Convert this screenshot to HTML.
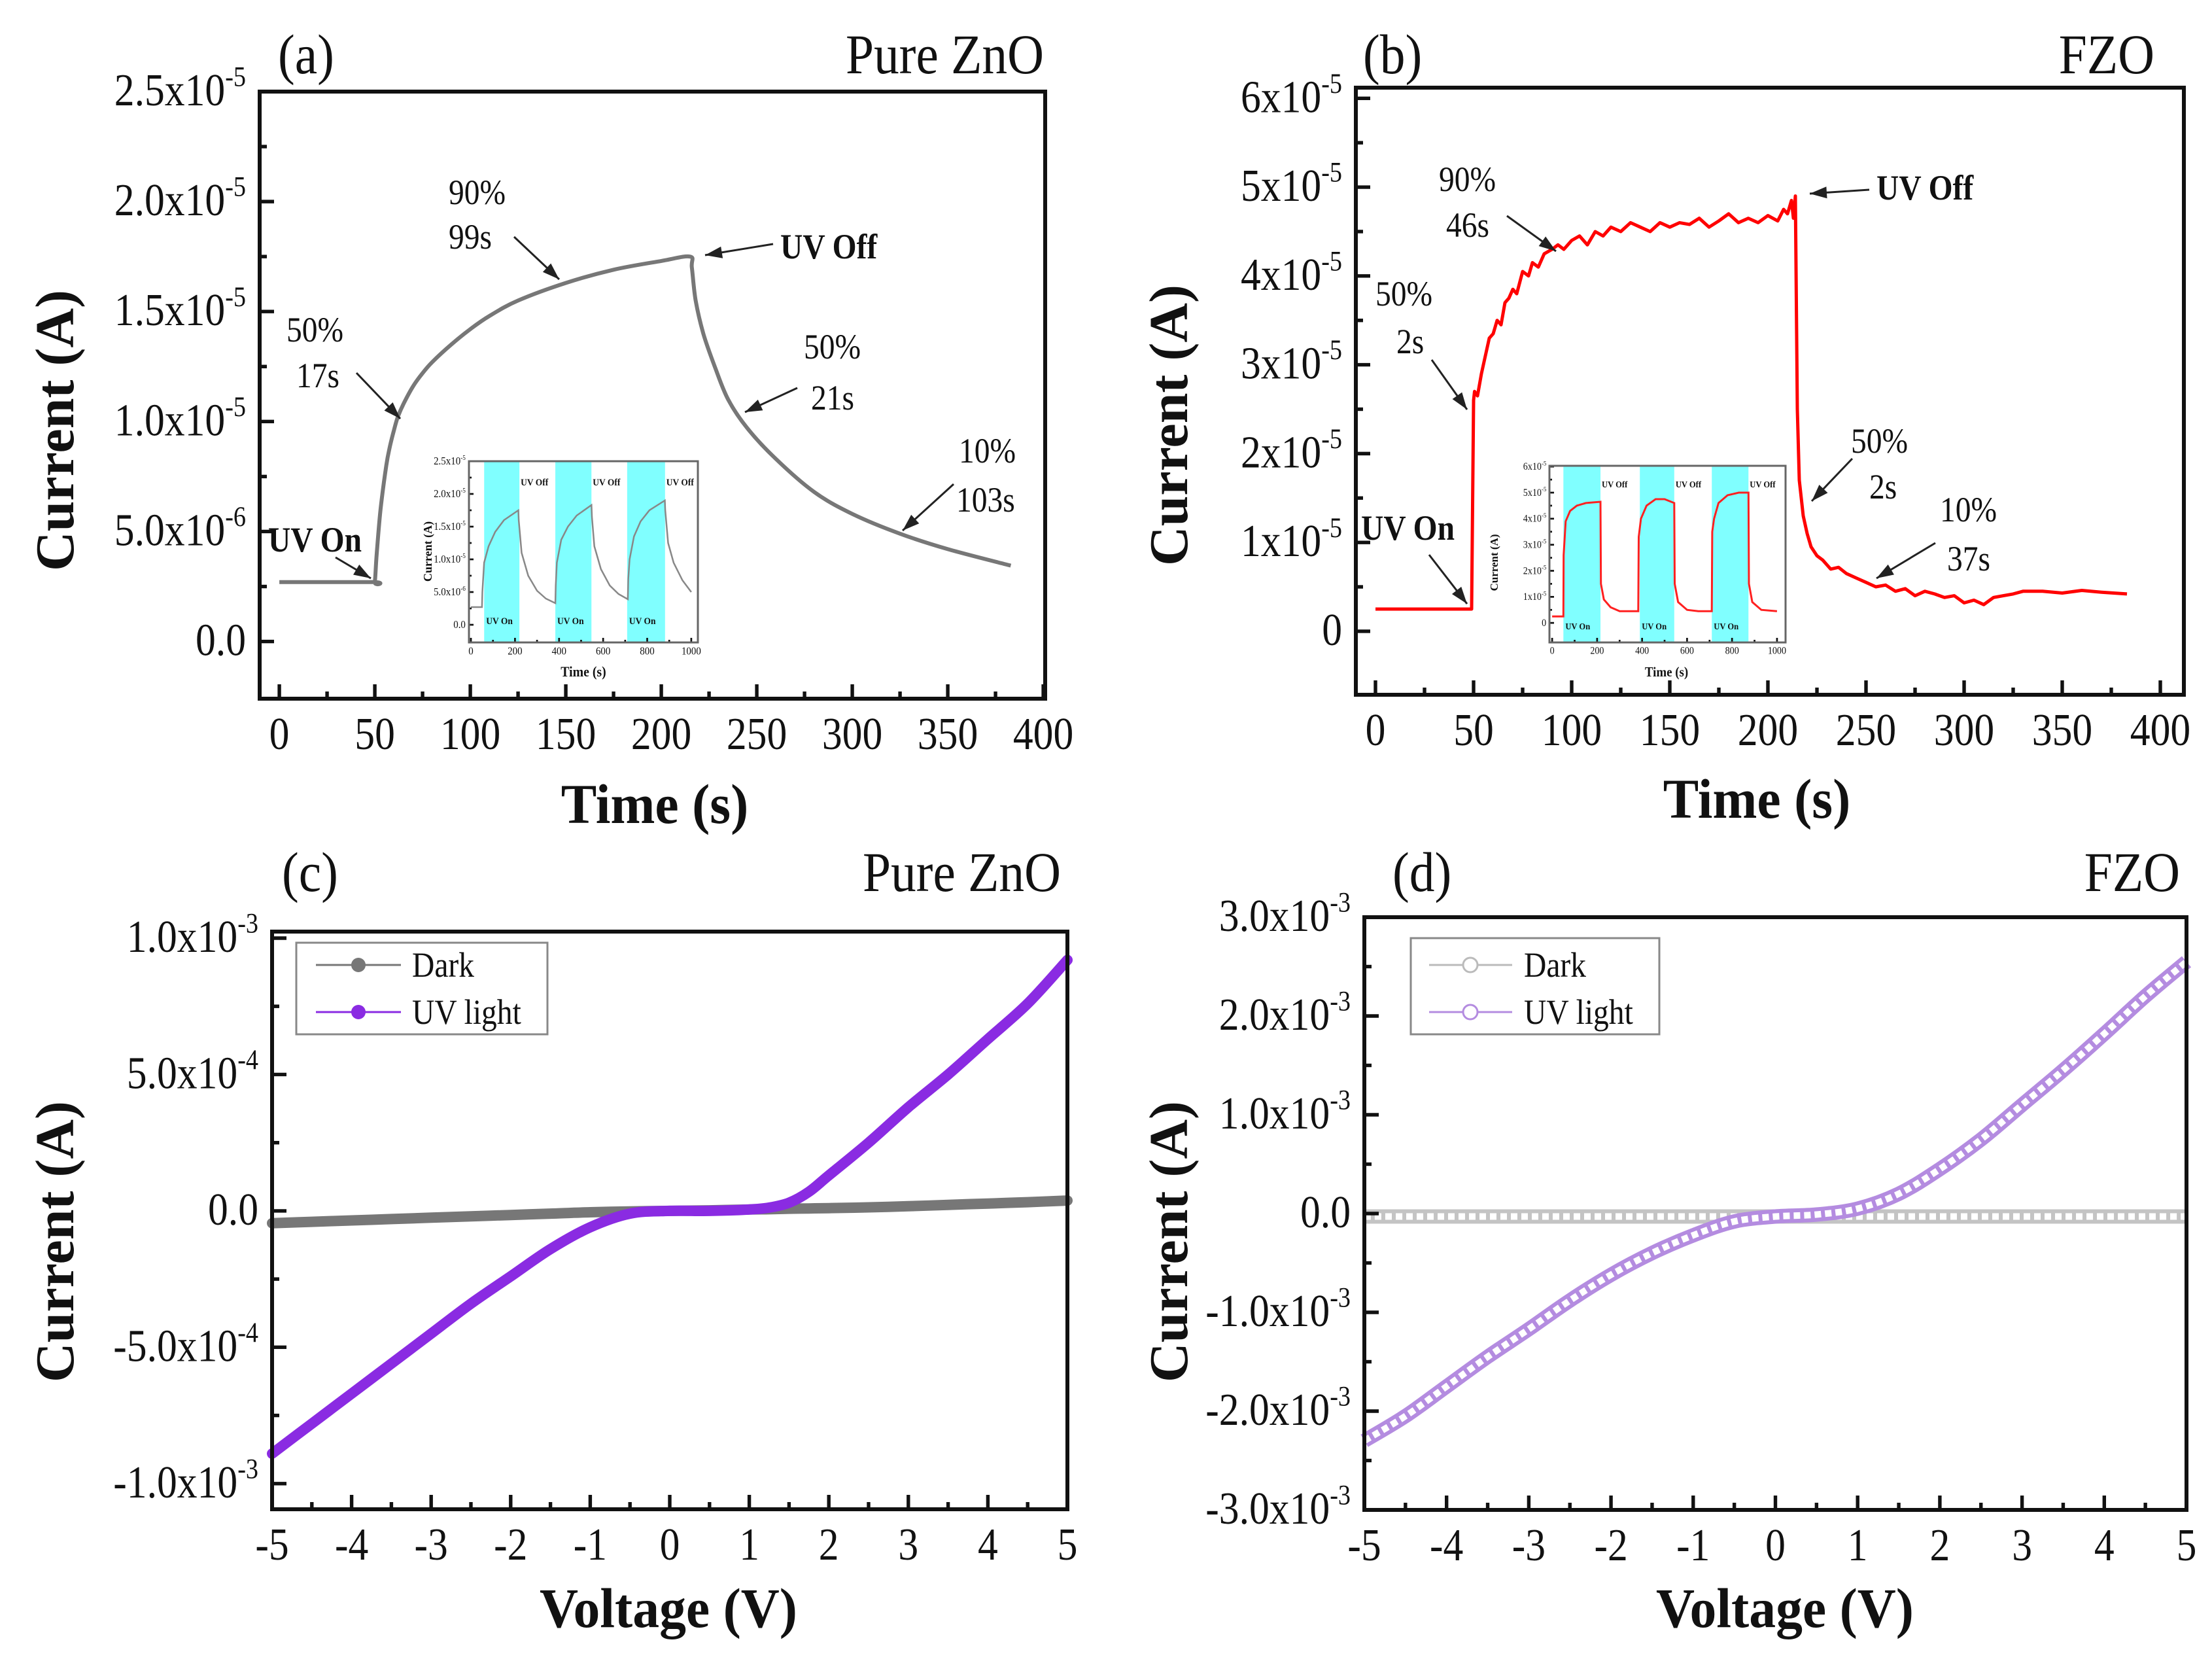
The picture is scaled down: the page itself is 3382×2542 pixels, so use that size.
<!DOCTYPE html>
<html><head><meta charset="utf-8"><style>
html,body{margin:0;padding:0;background:#fff;}
svg{display:block;font-family:"Liberation Serif","DejaVu Serif",serif;}
</style></head><body>
<svg id="fig" width="3382" height="2542" viewBox="0 0 3382 2542" xmlns="http://www.w3.org/2000/svg"></svg>
<script>
// ---------- data ----------
const aT = [0,49,50,51,53,56,58,60,62,65,70,75,80,90,100,110,125,150,175,200,215,216,218,222,228,235,245,260,280,300,325,350,383];
const aI = [0.27,0.27,0.27,0.4,0.6,0.8,0.89,0.96,1.02,1.08,1.16,1.22,1.27,1.35,1.42,1.48,1.55,1.63,1.69,1.73,1.75,1.70,1.55,1.40,1.25,1.10,0.97,0.83,0.68,0.58,0.49,0.42,0.345];
const aXTicks = [0,50,100,150,200,250,300,350,400];
const aYTicks = [0,0.5,1.0,1.5,2.0,2.5];
const aYLabels = ['0.0','5.0x10|-6','1.0x10|-5','1.5x10|-5','2.0x10|-5','2.5x10|-5'];

const bT = [0,49,50,50.5,52,54,56,58,60,62,64,66,68,70,72,75,78,80,83,86,90,93,96,100,104,108,112,116,120,125,130,135,140,145,150,155,160,165,170,175,180,185,190,195,200,205,208,210,212,213,214,215,216,218,220,222,225,228,232,236,240,245,250,255,260,265,270,275,280,285,290,295,300,305,310,315,320,325,330,340,350,360,370,383];
const bI = [0.25,0.25,2.6,2.7,2.65,2.9,3.1,3.3,3.35,3.5,3.45,3.7,3.75,3.85,3.8,4.05,4.0,4.15,4.1,4.25,4.3,4.35,4.3,4.4,4.45,4.35,4.5,4.45,4.55,4.5,4.6,4.55,4.5,4.6,4.55,4.6,4.58,4.65,4.55,4.62,4.7,4.6,4.65,4.6,4.68,4.62,4.75,4.7,4.85,4.65,4.9,2.5,1.7,1.3,1.1,0.95,0.85,0.8,0.7,0.72,0.65,0.6,0.55,0.5,0.52,0.45,0.48,0.4,0.45,0.42,0.38,0.4,0.32,0.35,0.3,0.38,0.4,0.42,0.45,0.45,0.43,0.46,0.44,0.42];
const bXTicks = [0,50,100,150,200,250,300,350,400];
const bYTicks = [0,1,2,3,4,5,6];
const bYLabels = ['0','1x10|-5','2x10|-5','3x10|-5','4x10|-5','5x10|-5','6x10|-5'];

const iaT = [0,50,52,60,80,110,150,215,217,230,260,300,340,383,385,390,410,440,480,547,549,560,590,630,670,712,714,720,740,770,810,880,882,895,920,960,1000];
const iaI = [0.27,0.27,0.5,0.95,1.2,1.42,1.6,1.75,1.6,1.1,0.75,0.52,0.4,0.33,0.6,0.95,1.3,1.5,1.67,1.83,1.65,1.2,0.85,0.6,0.47,0.39,0.7,1.0,1.35,1.58,1.75,1.9,1.75,1.25,0.95,0.68,0.5];
const iaBands = [[60,220],[383,547],[709,881]];
const ibT = [0,50,51,60,80,110,150,215,217,230,260,300,383,385,395,420,460,500,543,545,560,600,650,710,712,720,740,780,830,873,875,890,930,1000];
const ibI = [0.25,0.25,2.6,3.9,4.3,4.5,4.6,4.65,1.5,0.9,0.6,0.45,0.45,3.3,4.0,4.5,4.75,4.75,4.6,1.5,0.8,0.5,0.45,0.45,3.5,4.0,4.6,4.9,5.0,5.0,1.5,0.8,0.5,0.45];
const ibBands = [[50,215],[390,543],[710,873]];
const insetXTicks = [0,200,400,600,800,1000];
const iaYTicks = [0,0.5,1.0,1.5,2.0,2.5];
const iaYLabels = ['0.0','5.0x10|-6','1.0x10|-5','1.5x10|-5','2.0x10|-5','2.5x10|-5'];
const ibYTicks = [0,1,2,3,4,5,6];
const ibYLabels = ['0','1x10|-5','2x10|-5','3x10|-5','4x10|-5','5x10|-5','6x10|-5'];

const cV = [-5,-4.5,-4,-3.5,-3,-2.5,-2,-1.5,-1,-0.5,0,0.5,1,1.25,1.5,1.75,2,2.5,3,3.5,4,4.5,5];
const cUV = [-8.9,-7.8,-6.7,-5.6,-4.5,-3.4,-2.4,-1.4,-0.6,-0.1,0,0,0.05,0.12,0.3,0.7,1.3,2.5,3.8,5.0,6.3,7.6,9.2];
const cDark = [-0.45,-0.4,-0.35,-0.3,-0.25,-0.2,-0.15,-0.1,-0.05,-0.02,0,0.02,0.05,0.06,0.08,0.09,0.1,0.13,0.17,0.22,0.27,0.32,0.38];
const cYTicks = [-10,-5,0,5,10];
const cYLabels = ['-1.0x10|-3','-5.0x10|-4','0.0','5.0x10|-4','1.0x10|-3'];
const vXTicks = [-5,-4,-3,-2,-1,0,1,2,3,4,5];

const dV = [-5,-4.5,-4,-3.5,-3,-2.5,-2,-1.5,-1,-0.5,0,0.5,1,1.5,2,2.5,3,3.5,4,4.5,5];
const dUV = [-2.3,-2.05,-1.75,-1.45,-1.17,-0.88,-0.62,-0.4,-0.22,-0.08,-0.03,-0.01,0.05,0.2,0.45,0.75,1.1,1.45,1.82,2.2,2.55];
const dDark = [-0.03,-0.03,-0.03,-0.03,-0.03,-0.03,-0.03,-0.03,-0.03,-0.03,-0.03,-0.03,-0.03,-0.03,-0.03,-0.03,-0.03,-0.03,-0.03,-0.03,-0.03];
const dYTicks = [-3,-2,-1,0,1,2,3];
const dYLabels = ['-3.0x10|-3','-2.0x10|-3','-1.0x10|-3','0.0','1.0x10|-3','2.0x10|-3','3.0x10|-3'];

// ---------- helpers ----------
const NS = 'http://www.w3.org/2000/svg';
const fig = document.getElementById('fig');
function mk(parent, tag, attrs, name) {
  const el = document.createElementNS(NS, tag);
  for (const k in attrs) el.setAttribute(k, attrs[k]);
  
  
  parent.appendChild(el);
  return el;
}
function txt(parent, x, y, s, size, anchor, weight, name, sx, fill) {
  const g = mk(parent, 'g', {transform: 'translate(' + x + ',' + y + ') scale(' + (sx || 1) + ',1)'}, name + '-group');
  const t = mk(g, 'text', {x: 0, y: 0, 'font-size': size, 'text-anchor': anchor || 'start', 'font-weight': weight || 'normal', fill: fill || '#111'}, name);
  const parts = s.split('|');
  t.appendChild(document.createTextNode(parts[0]));
  if (parts.length > 1) {
    const sp = mk(t, 'tspan', {'font-size': size * 0.62, dy: -size * 0.42}, name + '-exponent');
    sp.textContent = parts[1];
  }
  return t;
}
function axis(p) {
  p.sx = v => p.L + (v - p.x0) / (p.x1 - p.x0) * (p.R - p.L);
  p.sy = v => p.B - (v - p.y0) / (p.y1 - p.y0) * (p.B - p.T);
  return p;
}
function smoothPath(xs, ys, p) {
  const P = xs.map((x, i) => [p.sx(x), p.sy(ys[i])]);
  let d = 'M' + P[0][0].toFixed(1) + ',' + P[0][1].toFixed(1);
  for (let i = 0; i < P.length - 1; i++) {
    const p0 = P[Math.max(i - 1, 0)], p1 = P[i], p2 = P[i + 1], p3 = P[Math.min(i + 2, P.length - 1)];
    const c1 = [p1[0] + (p2[0] - p0[0]) / 6, p1[1] + (p2[1] - p0[1]) / 6];
    const c2 = [p2[0] - (p3[0] - p1[0]) / 6, p2[1] - (p3[1] - p1[1]) / 6];
    d += 'C' + c1[0].toFixed(1) + ',' + c1[1].toFixed(1) + ' ' + c2[0].toFixed(1) + ',' + c2[1].toFixed(1) + ' ' + p2[0].toFixed(1) + ',' + p2[1].toFixed(1);
  }
  return d;
}
function linePath(xs, ys, p) {
  return xs.map((x, i) => (i ? 'L' : 'M') + p.sx(x).toFixed(1) + ',' + p.sy(ys[i]).toFixed(1)).join('');
}
function frame(g, p, o) {
  const sw = o.sw || 6, tl = o.tl || 22, ml = o.ml || 11, fs = o.fs || 70;
  o.xt.forEach((v, i) => {
    const x = p.sx(v);
    mk(g, 'line', {x1: x, y1: p.B, x2: x, y2: p.B - tl, stroke: '#111', 'stroke-width': sw * 0.9}, 'x-tick');
    txt(g, x, p.B + fs * 1.1, String(v), fs, 'middle', 'normal', 'x-tick-label', o.sxs || 0.88);
    if (i < o.xt.length - 1) {
      const xm = p.sx((v + o.xt[i + 1]) / 2);
      mk(g, 'line', {x1: xm, y1: p.B, x2: xm, y2: p.B - ml, stroke: '#111', 'stroke-width': sw * 0.9}, 'x-minor-tick');
    }
  });
  o.yt.forEach((v, i) => {
    const y = p.sy(v);
    mk(g, 'line', {x1: p.L, y1: y, x2: p.L + tl, y2: y, stroke: '#111', 'stroke-width': sw * 0.9}, 'y-tick');
    txt(g, p.L - fs * 0.3, y + fs * 0.3, o.yl[i], fs, 'end', 'normal', 'y-tick-label', o.sxs || 0.88);
    if (i < o.yt.length - 1) {
      const ym = p.sy((v + o.yt[i + 1]) / 2);
      mk(g, 'line', {x1: p.L, y1: ym, x2: p.L + ml, y2: ym, stroke: '#111', 'stroke-width': sw * 0.9}, 'y-minor-tick');
    }
  });
  mk(g, 'rect', {x: p.L, y: p.T, width: p.R - p.L, height: p.B - p.T, fill: 'none', stroke: o.fc || '#111', 'stroke-width': sw}, 'plot-frame');
}
function arrow(g, x1, y1, x2, y2, name) {
  mk(g, 'line', {x1: x1, y1: y1, x2: x2, y2: y2, stroke: '#222', 'stroke-width': 3}, name);
  const a = Math.atan2(y2 - y1, x2 - x1), L = 26, W = 9;
  const bx = x2 - L * Math.cos(a), by = y2 - L * Math.sin(a);
  const pts = [x2, y2, bx + W * Math.sin(a), by - W * Math.cos(a), bx - W * Math.sin(a), by + W * Math.cos(a)];
  mk(g, 'polygon', {points: pts.join(','), fill: '#222'}, name + '-head');
}
function ylabel(g, x, y, s, size, name) {
  const gg = mk(g, 'g', {transform: 'translate(' + x + ',' + y + ') rotate(-90)'}, name + '-group');
  const t = mk(gg, 'text', {x: 0, y: 0, 'font-size': size, 'text-anchor': 'middle', 'font-weight': 'bold', fill: '#111'}, name);
  t.textContent = s;
}

// ---------- panel a ----------
const gA = mk(fig, 'g', {}, 'panel-a');
const pA = axis({L: 397, R: 1598, T: 140, B: 1068, x0: -10.3, x1: 401, y0: -0.26, y1: 2.5});
frame(gA, pA, {xt: aXTicks, yt: aYTicks, yl: aYLabels});
mk(gA, 'path', {d: smoothPath(aT, aI, pA), fill: 'none', stroke: '#777', 'stroke-width': 6, 'stroke-linejoin': 'round'}, 'pure-zno-current-curve');
txt(gA, 425, 112, '(a)', 86, 'start', 'normal', 'panel-a-label', 0.9);
txt(gA, 1596, 112, 'Pure ZnO', 86, 'end', 'normal', 'panel-a-title', 0.9);
ylabel(gA, 112, 658, 'Current (A)', 84, 'y-axis-title');
txt(gA, 1001, 1258, 'Time (s)', 86, 'middle', 'bold', 'x-axis-title', 0.95);
txt(gA, 410, 843, 'UV On', 54, 'start', 'bold', 'uv-on-label', 0.88);
arrow(gA, 513, 852, 567, 884, 'uv-on-arrow');
txt(gA, 438, 522, '50%', 54, 'start', 'normal', 'rise-50-label', 0.88);
txt(gA, 453, 592, '17s', 54, 'start', 'normal', 'rise-50-time', 0.88);
arrow(gA, 545, 570, 612, 640, 'rise-50-arrow');
txt(gA, 686, 312, '90%', 54, 'start', 'normal', 'rise-90-label', 0.88);
txt(gA, 686, 380, '99s', 54, 'start', 'normal', 'rise-90-time', 0.88);
arrow(gA, 786, 362, 855, 427, 'rise-90-arrow');
txt(gA, 1193, 395, 'UV Off', 54, 'start', 'bold', 'uv-off-label', 0.88);
arrow(gA, 1182, 373, 1078, 390, 'uv-off-arrow');
txt(gA, 1229, 548, '50%', 54, 'start', 'normal', 'decay-50-label', 0.88);
txt(gA, 1240, 626, '21s', 54, 'start', 'normal', 'decay-50-time', 0.88);
arrow(gA, 1219, 593, 1139, 630, 'decay-50-arrow');
txt(gA, 1466, 707, '10%', 54, 'start', 'normal', 'decay-10-label', 0.88);
txt(gA, 1462, 782, '103s', 54, 'start', 'normal', 'decay-10-time', 0.88);
arrow(gA, 1458, 740, 1380, 811, 'decay-10-arrow');

// inset a
const gIA = mk(gA, 'g', {}, 'inset-a');
const pIA = axis({L: 717, R: 1067, T: 705, B: 982, x0: -9, x1: 1030, y0: -0.27, y1: 2.5});
iaBands.forEach(b => {
  mk(gIA, 'rect', {x: pIA.sx(b[0]), y: pIA.T, width: pIA.sx(b[1]) - pIA.sx(b[0]), height: pIA.B - pIA.T, fill: '#80ffff'}, 'uv-on-band');
  txt(gIA, pIA.sx(b[0]) + 3, pIA.B - 28, 'UV On', 15, 'start', 'bold', 'inset-uv-on-label', 0.9);
  txt(gIA, pIA.sx(b[1]) + 2, pIA.T + 37, 'UV Off', 15, 'start', 'bold', 'inset-uv-off-label', 0.9);
});
mk(gIA, 'path', {d: linePath(iaT, iaI, pIA), fill: 'none', stroke: '#888', 'stroke-width': 2.5}, 'inset-a-curve');
frame(gIA, pIA, {xt: insetXTicks, yt: iaYTicks, yl: iaYLabels, sw: 3, tl: 7, ml: 4, fs: 17, fc: '#666'});
ylabel(gIA, 660, 843, 'Current (A)', 18, 'inset-y-axis-title');
txt(gIA, 892, 1034, 'Time (s)', 22, 'middle', 'bold', 'inset-x-axis-title', 0.9);

// ---------- panel b ----------
const gB = mk(fig, 'g', {}, 'panel-b');
const pB = axis({L: 2073, R: 3339, T: 134, B: 1062, x0: -10, x1: 412, y0: -0.715, y1: 6.12});
frame(gB, pB, {xt: bXTicks, yt: bYTicks, yl: bYLabels});
mk(gB, 'path', {d: linePath(bT, bI, pB), fill: 'none', stroke: '#ff0000', 'stroke-width': 5, 'stroke-linejoin': 'round'}, 'fzo-current-curve');
txt(gB, 2084, 112, '(b)', 86, 'start', 'normal', 'panel-b-label', 0.9);
txt(gB, 3294, 112, 'FZO', 86, 'end', 'normal', 'panel-b-title', 0.9);
ylabel(gB, 1815, 650, 'Current (A)', 84, 'y-axis-title');
txt(gB, 2686, 1250, 'Time (s)', 86, 'middle', 'bold', 'x-axis-title', 0.95);
txt(gB, 2081, 825, 'UV On', 54, 'start', 'bold', 'uv-on-label', 0.88);
arrow(gB, 2185, 848, 2243, 923, 'uv-on-arrow');
txt(gB, 2103, 467, '50%', 54, 'start', 'normal', 'rise-50-label', 0.88);
txt(gB, 2135, 540, '2s', 54, 'start', 'normal', 'rise-50-time', 0.88);
arrow(gB, 2189, 550, 2243, 626, 'rise-50-arrow');
txt(gB, 2200, 292, '90%', 54, 'start', 'normal', 'rise-90-label', 0.88);
txt(gB, 2211, 362, '46s', 54, 'start', 'normal', 'rise-90-time', 0.88);
arrow(gB, 2304, 330, 2379, 384, 'rise-90-arrow');
txt(gB, 2869, 305, 'UV Off', 54, 'start', 'bold', 'uv-off-label', 0.88);
arrow(gB, 2858, 290, 2767, 296, 'uv-off-arrow');
txt(gB, 2830, 692, '50%', 54, 'start', 'normal', 'decay-50-label', 0.88);
txt(gB, 2858, 762, '2s', 54, 'start', 'normal', 'decay-50-time', 0.88);
arrow(gB, 2832, 701, 2770, 766, 'decay-50-arrow');
txt(gB, 2966, 797, '10%', 54, 'start', 'normal', 'decay-10-label', 0.88);
txt(gB, 2977, 872, '37s', 54, 'start', 'normal', 'decay-10-time', 0.88);
arrow(gB, 2959, 830, 2869, 884, 'decay-10-arrow');

// inset b
const gIB = mk(gB, 'g', {}, 'inset-b');
const pIB = axis({L: 2369, R: 2730, T: 712, B: 982, x0: -12, x1: 1038, y0: -0.75, y1: 6.03});
ibBands.forEach(b => {
  mk(gIB, 'rect', {x: pIB.sx(b[0]), y: pIB.T, width: pIB.sx(b[1]) - pIB.sx(b[0]), height: pIB.B - pIB.T, fill: '#80ffff'}, 'uv-on-band');
  txt(gIB, pIB.sx(b[0]) + 3, pIB.B - 20, 'UV On', 14, 'start', 'bold', 'inset-uv-on-label', 0.9);
  txt(gIB, pIB.sx(b[1]) + 2, pIB.T + 33, 'UV Off', 14, 'start', 'bold', 'inset-uv-off-label', 0.9);
});
mk(gIB, 'path', {d: linePath(ibT, ibI, pIB), fill: 'none', stroke: '#ff2020', 'stroke-width': 3}, 'inset-b-curve');
frame(gIB, pIB, {xt: insetXTicks, yt: ibYTicks, yl: ibYLabels, sw: 3, tl: 7, ml: 4, fs: 16, fc: '#666'});
ylabel(gIB, 2290, 860, 'Current (A)', 17, 'inset-y-axis-title');
txt(gIB, 2548, 1034, 'Time (s)', 21, 'middle', 'bold', 'inset-x-axis-title', 0.9);

// ---------- panel c ----------
const gC = mk(fig, 'g', {}, 'panel-c');
const pC = axis({L: 416, R: 1632, T: 1424, B: 2307, x0: -5, x1: 5, y0: -10.94, y1: 10.24});
mk(gC, 'path', {d: smoothPath(cV, cDark, pC), fill: 'none', stroke: '#777', 'stroke-width': 16, 'stroke-linecap': 'round'}, 'dark-series');
mk(gC, 'path', {d: smoothPath(cV, cUV, pC), fill: 'none', stroke: '#8a2be2', 'stroke-width': 16, 'stroke-linecap': 'round'}, 'uv-light-series');
frame(gC, pC, {xt: vXTicks, yt: cYTicks, yl: cYLabels});
txt(gC, 431, 1362, '(c)', 86, 'start', 'normal', 'panel-c-label', 0.9);
txt(gC, 1622, 1362, 'Pure ZnO', 86, 'end', 'normal', 'panel-c-title', 0.9);
ylabel(gC, 112, 1898, 'Current (A)', 84, 'y-axis-title');
txt(gC, 1022, 2487, 'Voltage (V)', 86, 'middle', 'bold', 'x-axis-title', 0.95);
const lgC = mk(gC, 'g', {}, 'legend');
mk(lgC, 'rect', {x: 453, y: 1441, width: 384, height: 140, fill: '#fff', stroke: '#888', 'stroke-width': 3}, 'legend-box');
mk(lgC, 'line', {x1: 483, y1: 1475, x2: 613, y2: 1475, stroke: '#777', 'stroke-width': 3}, 'legend-dark-line');
mk(lgC, 'circle', {cx: 548, cy: 1475, r: 11, fill: '#777'}, 'legend-dark-marker');
txt(lgC, 630, 1493, 'Dark', 54, 'start', 'normal', 'legend-dark-text', 0.88);
mk(lgC, 'line', {x1: 483, y1: 1547, x2: 613, y2: 1547, stroke: '#8a2be2', 'stroke-width': 3}, 'legend-uv-line');
mk(lgC, 'circle', {cx: 548, cy: 1547, r: 11, fill: '#8a2be2'}, 'legend-uv-marker');
txt(lgC, 630, 1565, 'UV light', 54, 'start', 'normal', 'legend-uv-text', 0.88);

// ---------- panel d ----------
const gD = mk(fig, 'g', {}, 'panel-d');
const pD = axis({L: 2086, R: 3343, T: 1402, B: 2308, x0: -5, x1: 5, y0: -3, y1: 3});
mk(gD, 'path', {d: smoothPath(dV, dDark, pD), fill: 'none', stroke: '#c4c4c4', 'stroke-width': 22}, 'dark-series');
mk(gD, 'path', {d: smoothPath(dV, dDark, pD), fill: 'none', stroke: '#fff', 'stroke-width': 10, 'stroke-dasharray': '10 6'}, 'dark-series-rings');
mk(gD, 'path', {d: smoothPath(dV, dUV, pD), fill: 'none', stroke: '#b48ce0', 'stroke-width': 22}, 'uv-light-series');
mk(gD, 'path', {d: smoothPath(dV, dUV, pD), fill: 'none', stroke: '#fff', 'stroke-width': 10, 'stroke-dasharray': '10 6'}, 'uv-light-series-rings');
frame(gD, pD, {xt: vXTicks, yt: dYTicks, yl: dYLabels});
txt(gD, 2129, 1362, '(d)', 86, 'start', 'normal', 'panel-d-label', 0.9);
txt(gD, 3333, 1362, 'FZO', 86, 'end', 'normal', 'panel-d-title', 0.9);
ylabel(gD, 1815, 1898, 'Current (A)', 84, 'y-axis-title');
txt(gD, 2729, 2487, 'Voltage (V)', 86, 'middle', 'bold', 'x-axis-title', 0.95);
const lgD = mk(gD, 'g', {}, 'legend');
mk(lgD, 'rect', {x: 2157, y: 1434, width: 380, height: 147, fill: '#fff', stroke: '#888', 'stroke-width': 3}, 'legend-box');
mk(lgD, 'line', {x1: 2185, y1: 1475, x2: 2312, y2: 1475, stroke: '#bbb', 'stroke-width': 3}, 'legend-dark-line');
mk(lgD, 'circle', {cx: 2248, cy: 1475, r: 11, fill: '#fff', stroke: '#bbb', 'stroke-width': 3}, 'legend-dark-marker');
txt(lgD, 2330, 1493, 'Dark', 54, 'start', 'normal', 'legend-dark-text', 0.88);
mk(lgD, 'line', {x1: 2185, y1: 1547, x2: 2312, y2: 1547, stroke: '#b48ce0', 'stroke-width': 3}, 'legend-uv-line');
mk(lgD, 'circle', {cx: 2248, cy: 1547, r: 11, fill: '#fff', stroke: '#b48ce0', 'stroke-width': 3}, 'legend-uv-marker');
txt(lgD, 2330, 1565, 'UV light', 54, 'start', 'normal', 'legend-uv-text', 0.88);
</script>
</body></html>
